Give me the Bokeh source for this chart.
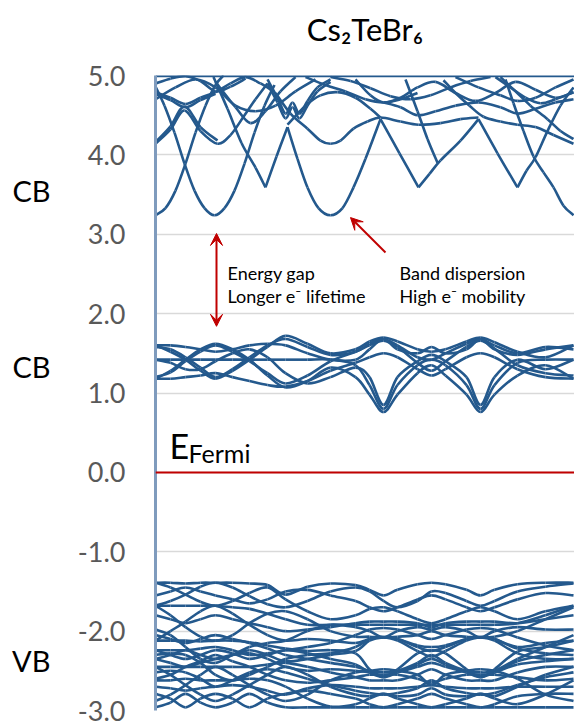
from bokeh.plotting import figure
from bokeh.models import (Range1d, Label, Arrow, VeeHead, ColumnDataSource, LinearAxis, Title,
                          FixedTicker, PrintfTickFormatter, CustomJSTickFormatter, Span)
from bokeh.embed import file_html
from bokeh.resources import INLINE

# ---------------- data ----------------
TITLE = "Cs\u2082TeBr\u2086"
Y_TICKS = [-3, -2, -1, 0, 1, 2, 3, 4, 5]
GROUP_LABEL_POS = [3.55, 1.33, -2.37]
GROUP_LABELS = ["CB", "CB", "VB"]

# common k-grid (arbitrary path units) for the lower conduction band and valence band
K_GRID = [0, 15, 30, 45, 60, 77, 94, 112, 130, 152, 175, 200, 214, 228, 242, 262, 276, 290, 311, 325, 339, 362, 390, 418]

# lower conduction band group (~0.8 - 1.7 eV)
cb_m1 = [1.60, 1.52, 1.42, 1.28, 1.18, 1.28, 1.42, 1.58, 1.72, 1.62, 1.50, 1.55, 1.65, 1.70, 1.65, 1.55, 1.52, 1.55, 1.65, 1.70, 1.64, 1.52, 1.45, 1.60]
cb_m2 = [1.18, 1.28, 1.42, 1.55, 1.62, 1.55, 1.42, 1.22, 1.07, 1.15, 1.32, 1.20, 0.98, 0.76, 0.98, 1.25, 1.35, 1.22, 0.98, 0.76, 0.98, 1.22, 1.35, 1.18]
cb_m3 = [1.42, 1.42, 1.42, 1.42, 1.42, 1.42, 1.42, 1.42, 1.42, 1.42, 1.42, 1.35, 1.10, 0.80, 1.10, 1.35, 1.42, 1.35, 1.10, 0.80, 1.10, 1.38, 1.42, 1.42]
cb_m4 = [1.58, 1.55, 1.45, 1.32, 1.20, 1.30, 1.45, 1.60, 1.68, 1.58, 1.48, 1.52, 1.62, 1.68, 1.60, 1.45, 1.42, 1.50, 1.62, 1.68, 1.60, 1.50, 1.58, 1.55]
cb_m5 = [1.20, 1.26, 1.40, 1.52, 1.60, 1.52, 1.40, 1.25, 1.12, 1.22, 1.40, 1.52, 1.60, 1.66, 1.58, 1.38, 1.28, 1.40, 1.58, 1.66, 1.56, 1.35, 1.25, 1.22]
cb_m6 = [1.42, 1.38, 1.30, 1.30, 1.40, 1.50, 1.55, 1.45, 1.25, 1.12, 1.20, 1.32, 1.20, 0.85, 1.20, 1.40, 1.48, 1.40, 1.20, 0.85, 1.20, 1.42, 1.30, 1.42]
cb_m7 = [1.60, 1.60, 1.58, 1.55, 1.52, 1.55, 1.60, 1.62, 1.60, 1.50, 1.42, 1.42, 1.55, 1.68, 1.55, 1.50, 1.58, 1.50, 1.55, 1.68, 1.55, 1.48, 1.55, 1.60]
cb_m8 = [1.18, 1.18, 1.20, 1.22, 1.25, 1.20, 1.15, 1.10, 1.08, 1.15, 1.28, 1.38, 1.45, 1.50, 1.45, 1.30, 1.22, 1.30, 1.45, 1.50, 1.45, 1.30, 1.20, 1.18]

# valence band group (-1.4 to -3.0 eV)
vb_1 = [-1.39, -1.39, -1.40, -1.39, -1.39, -1.39, -1.40, -1.42, -1.54, -1.44, -1.40, -1.42, -1.48, -1.55, -1.48, -1.41, -1.39, -1.41, -1.48, -1.55, -1.48, -1.41, -1.39, -1.39]
vb_2 = [-1.68, -1.62, -1.54, -1.44, -1.39, -1.45, -1.56, -1.66, -1.70, -1.62, -1.50, -1.45, -1.50, -1.62, -1.70, -1.62, -1.50, -1.52, -1.62, -1.68, -1.62, -1.50, -1.44, -1.40]
vb_3 = [-1.39, -1.45, -1.54, -1.63, -1.68, -1.62, -1.52, -1.45, -1.60, -1.75, -1.85, -1.80, -1.72, -1.70, -1.75, -1.85, -1.90, -1.85, -1.75, -1.70, -1.75, -1.85, -1.75, -1.68]
vb_4 = [-1.68, -1.68, -1.68, -1.68, -1.68, -1.70, -1.72, -1.78, -1.85, -1.92, -1.92, -1.92, -1.92, -1.92, -1.92, -1.92, -1.92, -1.92, -1.92, -1.92, -1.92, -1.90, -1.80, -1.68]
vb_5 = [-1.68, -1.80, -1.95, -2.07, -2.12, -2.05, -1.90, -1.78, -1.75, -1.85, -2.00, -2.07, -2.07, -2.08, -2.07, -2.05, -2.00, -2.05, -2.07, -2.08, -2.07, -2.00, -1.85, -1.70]
vb_6 = [-2.12, -2.00, -1.88, -1.75, -1.68, -1.78, -1.92, -2.05, -2.12, -2.10, -2.12, -2.15, -2.10, -2.08, -2.10, -2.20, -2.25, -2.20, -2.10, -2.08, -2.10, -2.20, -2.15, -2.12]
vb_7 = [-2.12, -2.12, -2.12, -2.13, -2.12, -2.12, -2.14, -2.18, -2.22, -2.25, -2.24, -2.28, -2.48, -2.58, -2.48, -2.28, -2.24, -2.28, -2.48, -2.58, -2.48, -2.26, -2.20, -2.12]
vb_8 = [-2.24, -2.30, -2.35, -2.30, -2.24, -2.28, -2.35, -2.30, -2.24, -2.28, -2.35, -2.42, -2.52, -2.58, -2.52, -2.42, -2.35, -2.42, -2.52, -2.58, -2.52, -2.38, -2.30, -2.24]
vb_9 = [-2.35, -2.30, -2.24, -2.30, -2.35, -2.30, -2.24, -2.30, -2.38, -2.35, -2.30, -2.25, -2.12, -2.08, -2.12, -2.25, -2.32, -2.25, -2.12, -2.08, -2.12, -2.28, -2.35, -2.35]
vb_10 = [-2.45, -2.45, -2.45, -2.45, -2.45, -2.45, -2.45, -2.42, -2.40, -2.45, -2.52, -2.58, -2.62, -2.62, -2.62, -2.55, -2.48, -2.55, -2.62, -2.62, -2.62, -2.52, -2.45, -2.45]
vb_11 = [-2.45, -2.55, -2.68, -2.80, -2.88, -2.80, -2.68, -2.55, -2.45, -2.55, -2.70, -2.80, -2.82, -2.79, -2.82, -2.80, -2.72, -2.80, -2.82, -2.79, -2.82, -2.70, -2.55, -2.45]
vb_12 = [-2.88, -2.80, -2.68, -2.55, -2.45, -2.55, -2.68, -2.80, -2.88, -2.80, -2.62, -2.52, -2.50, -2.48, -2.50, -2.55, -2.68, -2.55, -2.50, -2.48, -2.50, -2.60, -2.80, -2.88]
vb_13 = [-2.62, -2.62, -2.60, -2.62, -2.62, -2.62, -2.60, -2.62, -2.70, -2.85, -2.95, -2.92, -2.85, -2.79, -2.85, -2.92, -2.96, -2.92, -2.85, -2.79, -2.85, -2.92, -2.80, -2.62]
vb_14 = [-2.96, -2.90, -2.79, -2.90, -2.96, -2.90, -2.79, -2.90, -2.96, -2.96, -2.96, -2.96, -2.96, -2.96, -2.96, -2.96, -2.96, -2.96, -2.96, -2.96, -2.96, -2.96, -2.96, -2.96]
vb_15 = [-2.79, -2.85, -2.96, -2.85, -2.79, -2.85, -2.96, -2.85, -2.79, -2.75, -2.79, -2.85, -2.92, -2.96, -2.92, -2.85, -2.79, -2.85, -2.92, -2.96, -2.92, -2.82, -2.79, -2.79]
vb_16 = [-2.30, -2.28, -2.30, -2.40, -2.55, -2.62, -2.55, -2.45, -2.35, -2.30, -2.28, -2.20, -2.10, -2.07, -2.10, -2.18, -2.20, -2.18, -2.10, -2.07, -2.10, -2.22, -2.28, -2.30]
vb_17 = [-1.98, -2.05, -2.20, -2.35, -2.40, -2.30, -2.20, -2.15, -2.12, -2.00, -1.92, -1.95, -2.00, -2.08, -2.00, -1.95, -1.98, -1.95, -2.00, -2.08, -2.00, -1.95, -1.98, -1.98]
vb_18 = [-2.24, -2.24, -2.24, -2.22, -2.20, -2.24, -2.30, -2.28, -2.24, -2.20, -2.15, -2.05, -1.98, -1.96, -1.98, -2.05, -2.10, -2.05, -1.98, -1.96, -1.98, -2.08, -2.18, -2.24]
vb_19 = [-2.60, -2.55, -2.45, -2.38, -2.30, -2.38, -2.45, -2.55, -2.62, -2.65, -2.62, -2.58, -2.55, -2.55, -2.55, -2.60, -2.65, -2.60, -2.55, -2.55, -2.55, -2.58, -2.62, -2.60]
vb_20 = [-1.80, -1.85, -1.90, -1.85, -1.80, -1.85, -1.90, -1.95, -2.00, -1.98, -1.95, -1.90, -1.88, -1.88, -1.88, -1.90, -1.95, -1.90, -1.88, -1.88, -1.88, -1.90, -1.85, -1.80]
vb_21 = [-2.35, -2.40, -2.45, -2.40, -2.35, -2.30, -2.28, -2.35, -2.45, -2.50, -2.48, -2.50, -2.52, -2.56, -2.52, -2.45, -2.40, -2.45, -2.52, -2.56, -2.52, -2.42, -2.38, -2.35]
vb_22 = [-2.70, -2.72, -2.75, -2.72, -2.70, -2.68, -2.70, -2.75, -2.80, -2.72, -2.68, -2.70, -2.72, -2.72, -2.72, -2.70, -2.68, -2.70, -2.72, -2.72, -2.72, -2.70, -2.70, -2.70]
vb_23 = [-1.55, -1.50, -1.45, -1.50, -1.55, -1.60, -1.65, -1.60, -1.50, -1.48, -1.55, -1.62, -1.70, -1.75, -1.70, -1.60, -1.55, -1.60, -1.70, -1.75, -1.70, -1.60, -1.52, -1.55]
vb_24 = [-2.05, -2.10, -2.15, -2.10, -2.05, -2.10, -2.15, -2.22, -2.30, -2.35, -2.40, -2.45, -2.50, -2.52, -2.50, -2.40, -2.30, -2.40, -2.50, -2.52, -2.50, -2.35, -2.20, -2.05]
vb_25 = [-2.52, -2.50, -2.52, -2.60, -2.70, -2.62, -2.52, -2.48, -2.52, -2.60, -2.68, -2.75, -2.78, -2.80, -2.78, -2.72, -2.62, -2.72, -2.78, -2.80, -2.78, -2.68, -2.58, -2.52]

# upper conduction bands (3.2 - 5.0 eV): each piece is (k, E); kinks split pieces
cu_a_k = [0, 10, 20, 30, 40, 50, 60, 68]
cu_a_e = [3.24, 3.33, 3.55, 3.89, 4.28, 4.62, 4.88, 5.00]
cu_b_k = [0, 9, 19, 29, 39, 49, 59, 69, 79, 89, 99, 109, 119]
cu_b_e = [4.86, 4.62, 4.28, 3.89, 3.55, 3.33, 3.24, 3.33, 3.55, 3.89, 4.28, 4.62, 4.88]
cu_c1_k = [58, 72, 86, 100, 110]
cu_c1_e = [4.98, 4.58, 4.15, 3.84, 3.59]
cu_c2_k = [110, 121, 132]
cu_c2_e = [3.59, 3.98, 4.35]
cu_c3_k = [132, 142, 152, 163, 175, 187, 198, 210, 225]
cu_c3_e = [4.35, 3.95, 3.59, 3.33, 3.24, 3.33, 3.59, 3.95, 4.45]
cu_c4_k = [225, 244, 263]
cu_c4_e = [4.45, 4.02, 3.59]
cu_c5_k = [263, 274, 285, 305, 323]
cu_c5_e = [3.59, 3.76, 3.93, 4.18, 4.45]
cu_c6_k = [323, 342, 362]
cu_c6_e = [4.45, 4.02, 3.59]
cu_c7_k = [362, 371, 380, 392, 405, 418]
cu_c7_e = [3.59, 3.80, 3.97, 4.30, 4.62, 4.85]
cu_d_k = [350, 358, 368, 378, 388, 398, 408, 418]
cu_d_e = [4.95, 4.65, 4.30, 3.98, 3.78, 3.59, 3.36, 3.24]
cu_e_k = [0, 15, 29, 45, 62, 75, 88, 100, 112]
cu_e_e = [4.14, 4.32, 4.56, 4.30, 4.14, 4.25, 4.48, 4.70, 4.90]
cu_e2_k = [0, 15, 29, 45, 62]
cu_e2_e = [4.16, 4.36, 4.61, 4.35, 4.18]
cu_f_k = [120, 135, 152, 165, 175, 185, 198, 212, 225, 245, 263, 285, 305, 323]
cu_f_e = [4.78, 4.52, 4.33, 4.18, 4.14, 4.18, 4.33, 4.42, 4.47, 4.42, 4.38, 4.40, 4.45, 4.47]
cu_g_k = [132, 150, 165, 182, 200, 215, 225]
cu_g_e = [4.38, 4.62, 4.75, 4.79, 4.72, 4.58, 4.47]
cu_h_k = [288, 300, 314, 328, 345, 362, 380, 398, 418]
cu_h_e = [4.94, 4.78, 4.62, 4.48, 4.42, 4.38, 4.35, 4.25, 4.14]
cu_i_k = [345, 360, 375, 392, 405, 418]
cu_i_e = [4.98, 4.80, 4.62, 4.45, 4.30, 4.20]
cu_j_k = [250, 262, 272, 282]
cu_j_e = [4.95, 4.55, 4.20, 3.90]
cu_k_k = [0, 15, 30, 45, 60, 75, 90, 105, 118]
cu_k_e = [4.79, 4.72, 4.64, 4.72, 4.79, 4.90, 4.98, 4.90, 4.80]
cu_k2_k = [0, 15, 30, 45, 60]
cu_k2_e = [4.77, 4.69, 4.60, 4.69, 4.77]
cu_l_k = [0, 15, 30, 45, 60, 75, 90]
cu_l_e = [4.90, 4.96, 4.99, 4.93, 4.80, 4.86, 4.96]
cu_m_k = [112, 122, 130, 137, 144, 152, 162, 175]
cu_m_e = [4.95, 4.72, 4.52, 4.66, 4.52, 4.68, 4.85, 4.95]
cu_m2_e = [4.90, 4.66, 4.46, 4.60, 4.46, 4.62, 4.80, 4.92]
cu_n_k = [175, 195, 215, 235, 255, 275, 295, 315, 335]
cu_n_e = [4.98, 4.93, 4.84, 4.74, 4.70, 4.75, 4.85, 4.93, 4.98]
cu_o_k = [200, 215, 228, 245, 262, 280, 300, 320, 340, 360, 380, 400, 418]
cu_o_e = [4.95, 4.75, 4.66, 4.72, 4.85, 4.92, 4.78, 4.68, 4.78, 4.92, 4.82, 4.72, 4.79]
cu_p_k = [340, 355, 370, 385, 400, 418]
cu_p_e = [4.98, 4.85, 4.72, 4.65, 4.70, 4.79]
cu_q_k = [0, 20, 40, 60, 80, 100, 120, 140, 160]
cu_q_e = [4.70, 4.85, 4.95, 4.85, 4.62, 4.55, 4.62, 4.80, 4.95]
cu_r_k = [60, 80, 95, 110, 125, 140]
cu_r_e = [4.92, 4.60, 4.40, 4.55, 4.80, 4.98]
cu_s_k = [150, 170, 190, 210, 228, 245, 262]
cu_s_e = [4.98, 4.88, 4.80, 4.70, 4.66, 4.70, 4.78]
cu_t_k = [228, 245, 262, 280, 300, 323, 345, 362, 380, 400, 418]
cu_t_e = [4.66, 4.60, 4.50, 4.55, 4.62, 4.66, 4.60, 4.52, 4.58, 4.66, 4.70]
cu_u_k = [300, 323, 345, 362, 380, 400, 418]
cu_u_e = [4.98, 4.85, 4.75, 4.68, 4.72, 4.85, 4.95]
cu_top_k = [0, 419]
cu_top_e = [4.995, 4.995]

FERMI_LEVEL = 0.0

# ---------------- styles ----------------
BAND_COLOR = "#24598d"
RED = "#c00000"
FONT = "Lato"

grid_bands = [cb_m1, cb_m2, cb_m3, cb_m4, cb_m5, cb_m6, cb_m7, cb_m8,
              vb_1, vb_2, vb_3, vb_4, vb_5, vb_6, vb_7, vb_8, vb_9, vb_10, vb_11,
              vb_12, vb_13, vb_14, vb_15, vb_16, vb_17, vb_18, vb_19, vb_20, vb_21, vb_22,
              vb_23, vb_24, vb_25]
pieces = [(K_GRID, b) for b in grid_bands] + [
    (cu_a_k, cu_a_e), (cu_b_k, cu_b_e), (cu_c1_k, cu_c1_e), (cu_c2_k, cu_c2_e),
    (cu_c3_k, cu_c3_e), (cu_c4_k, cu_c4_e), (cu_c5_k, cu_c5_e), (cu_c6_k, cu_c6_e),
    (cu_c7_k, cu_c7_e), (cu_d_k, cu_d_e), (cu_e_k, cu_e_e), (cu_e2_k, cu_e2_e),
    (cu_f_k, cu_f_e), (cu_g_k, cu_g_e), (cu_h_k, cu_h_e), (cu_i_k, cu_i_e),
    (cu_j_k, cu_j_e), (cu_k_k, cu_k_e), (cu_k2_k, cu_k2_e), (cu_l_k, cu_l_e),
    (cu_m_k, cu_m_e), (cu_m_k, cu_m2_e), (cu_n_k, cu_n_e), (cu_o_k, cu_o_e),
    (cu_p_k, cu_p_e), (cu_q_k, cu_q_e), (cu_r_k, cu_r_e), (cu_s_k, cu_s_e),
    (cu_t_k, cu_t_e), (cu_u_k, cu_u_e), (cu_top_k, cu_top_e)]

# smooth curve rendering through the read points (Catmull-Rom -> cubic Bezier)
seg = dict(x0=[], y0=[], x1=[], y1=[], cx0=[], cy0=[], cx1=[], cy1=[])
for ks, es in pieces:
    pts = list(zip(ks, es))
    n = len(pts)
    for i in range(n - 1):
        p0 = pts[max(i - 1, 0)]
        p1 = pts[i]
        p2 = pts[i + 1]
        p3 = pts[min(i + 2, n - 1)]
        seg["x0"].append(p1[0]); seg["y0"].append(p1[1])
        seg["x1"].append(p2[0]); seg["y1"].append(p2[1])
        seg["cx0"].append(p1[0] + (p2[0] - p0[0]) / 6.0)
        seg["cy0"].append(p1[1] + (p2[1] - p0[1]) / 6.0)
        seg["cx1"].append(p2[0] - (p3[0] - p1[0]) / 6.0)
        seg["cy1"].append(p2[1] - (p3[1] - p1[1]) / 6.0)
src = ColumnDataSource(seg)

p = figure(width=574, height=722, x_range=Range1d(0, 419), y_range=Range1d(-3, 5),
           output_backend="svg", toolbar_location=None,
           min_border_left=155, min_border_right=0, min_border_top=75, min_border_bottom=12)
p.title.text = TITLE
p.title.align = "center"
p.title.text_font = FONT
p.title.text_font_size = "31px"
p.title.text_font_style = "normal"
p.title.text_color = "black"
p.title.standoff = 4
p.title.offset = -6
# invisible spacer between the title and the frame (lifts the title)
p.add_layout(Title(text=" ", text_font=FONT, text_font_size="20px", standoff=0), "above")
p.outline_line_color = None
p.xaxis.visible = False
p.xgrid.grid_line_color = None
p.ygrid.grid_line_color = "#d9d9d9"
p.ygrid.grid_line_width = 1.5
p.yaxis.ticker = FixedTicker(ticks=Y_TICKS)
p.yaxis.formatter = PrintfTickFormatter(format="%.1f")
p.yaxis.axis_line_color = "#7f9bbd"
p.yaxis.axis_line_width = 3
p.yaxis.major_tick_line_color = None
p.yaxis.major_tick_out = 0
p.yaxis.major_tick_in = 0
p.yaxis.minor_tick_line_color = None
p.yaxis.major_label_standoff = 30
p.yaxis.major_label_text_font = FONT
p.yaxis.major_label_text_font_size = "27px"
p.yaxis.major_label_text_color = "#595959"

# second left axis carrying the CB / VB group names
grp_axis = LinearAxis(ticker=FixedTicker(ticks=GROUP_LABEL_POS),
                      formatter=CustomJSTickFormatter(
                          args=dict(pos=GROUP_LABEL_POS, names=GROUP_LABELS),
                          code="""
let best = 0;
for (let i = 0; i < pos.length; i++) {
  if (Math.abs(pos[i] - tick) < Math.abs(pos[best] - tick)) best = i;
}
return names[best];
"""))
grp_axis.axis_line_color = None
grp_axis.major_tick_line_color = None
grp_axis.minor_tick_line_color = None
grp_axis.major_tick_out = 0
grp_axis.major_tick_in = 0
grp_axis.major_label_standoff = 24
grp_axis.major_label_text_font = FONT
grp_axis.major_label_text_font_size = "29px"
grp_axis.major_label_text_color = "black"
p.add_layout(grp_axis, "left")

p.bezier(x0="x0", y0="y0", x1="x1", y1="y1", cx0="cx0", cy0="cy0", cx1="cx1", cy1="cy1",
         source=src, line_color=BAND_COLOR, line_width=2.6)

p.add_layout(Span(location=FERMI_LEVEL, dimension="width", line_color=RED, line_width=2))

def lab(x, y, t, size, color="black", baseline="alphabetic", align="left"):
    p.add_layout(Label(x=x, y=y, text=t, text_font=FONT, text_font_size=size,
                       text_color=color, text_baseline=baseline, text_align=align))

# E_Fermi
lab(14, 0.339, "E", "34px")
lab(33, 0.238, "Fermi", "25px")

# annotations
lab(72, 2.518, "Energy gap", "18px")
lab(72, 2.216, "Longer e\u207b lifetime", "18px")
lab(244, 2.518, "Band dispersion", "18px")
lab(244, 2.216, "High e\u207b mobility", "18px")

p.add_layout(Arrow(x_start=61, y_start=1.84, x_end=61, y_end=3.01,
                   start=VeeHead(size=12, fill_color=RED, line_color=RED),
                   end=VeeHead(size=12, fill_color=RED, line_color=RED),
                   line_color=RED, line_width=2))
p.add_layout(Arrow(x_start=230, y_start=2.77, x_end=195, y_end=3.21,
                   end=VeeHead(size=12, fill_color=RED, line_color=RED),
                   line_color=RED, line_width=2))

open("out.html", "w").write(file_html(p, INLINE))
